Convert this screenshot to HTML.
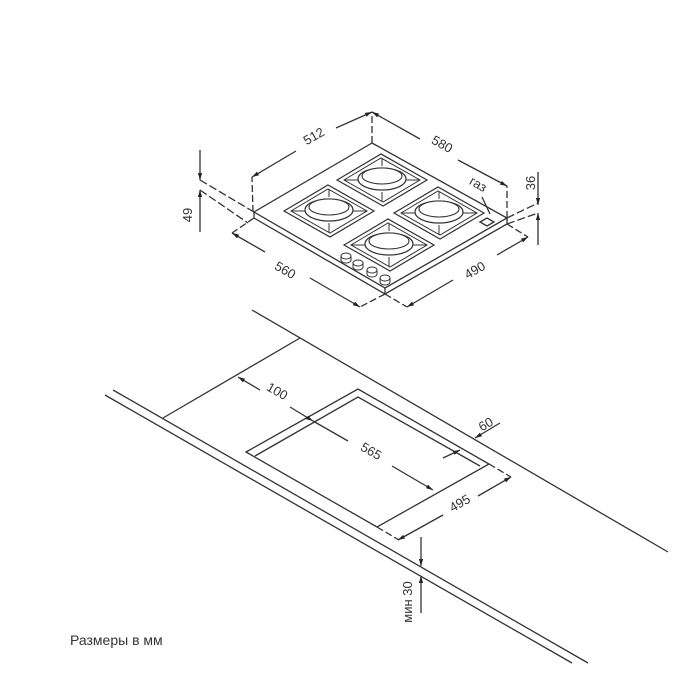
<!DOCTYPE html>
<html><head><meta charset="utf-8"><style>
html,body{margin:0;padding:0;background:#fff;}
svg{display:block;}
text{font-family:"Liberation Sans","DejaVu Sans",sans-serif;fill:#333;font-size:13px;}
</style></head><body>
<svg width="700" height="700" viewBox="0 0 700 700" xmlns="http://www.w3.org/2000/svg">
<defs>
<marker id="a" viewBox="0 0 10 10" refX="10" refY="5" markerWidth="7" markerHeight="7" orient="auto-start-reverse" markerUnits="userSpaceOnUse"><path d="M0,2 L10,5 L0,8 z" fill="#222"/></marker>
<g id="grate">
<path d="M-45,0 L-1,-26 L45,0 L1,26 Z" fill="none" stroke="#333" stroke-width="1.2"/>
<path d="M-38,0 L-1,-22 L38,0 L1,22 Z" fill="none" stroke="#333" stroke-width="1"/>
<line x1="-38" y1="0" x2="-24" y2="0" stroke="#333"/>
<line x1="38" y1="0" x2="24" y2="0" stroke="#333"/>
<line x1="0" y1="-22" x2="0" y2="-14" stroke="#333"/>
<line x1="0" y1="22" x2="0" y2="12" stroke="#333"/>
<ellipse cx="0" cy="-1" rx="24" ry="11" fill="#fff" stroke="#333" stroke-width="1.2"/>
<ellipse cx="0" cy="-4" rx="20" ry="8" fill="#fff" stroke="#333" stroke-width="1.1"/>
</g>
<g id="knob"><path d="M-5,-2 L-5,2 A5,3 0 0 0 5,2 L5,-2" fill="#fff" stroke="#333"/><ellipse cx="0" cy="-2" rx="5" ry="3" fill="#fff" stroke="#333"/></g>
</defs>
<g stroke="#333" stroke-width="1.3" fill="none">
<!-- hob -->
<path d="M372,143 L254,212 L385,288 L507,218 Z" fill="#fff"/>
<path d="M254,212 L254,218 L385,294 L507,224 L507,218"/>
<line x1="385" y1="288" x2="385" y2="294"/>
<!-- dims 512/580 -->
<line x1="372" y1="143" x2="372" y2="112" stroke-dasharray="7,3"/>
<line x1="253" y1="212" x2="252" y2="177" stroke-dasharray="7,3"/>
<line x1="507" y1="218" x2="507" y2="186" stroke-dasharray="7,3"/>
<line x1="296" y1="151" x2="252" y2="177" marker-end="url(#a)"/>
<line x1="336" y1="128" x2="372" y2="112" marker-end="url(#a)"/>
<line x1="420" y1="139" x2="372" y2="112" marker-end="url(#a)"/>
<line x1="458" y1="160" x2="507" y2="186" marker-end="url(#a)"/>
<!-- 49 -->
<line x1="200" y1="150" x2="200" y2="180" marker-end="url(#a)"/>
<line x1="200" y1="232" x2="200" y2="190" marker-end="url(#a)"/>
<line x1="200" y1="180" x2="254" y2="212" stroke-dasharray="8,3"/>
<line x1="200" y1="190" x2="248" y2="223" stroke-dasharray="8,3"/>
<!-- 36 -->
<line x1="538" y1="172" x2="538" y2="205" marker-end="url(#a)"/>
<line x1="538" y1="245" x2="538" y2="213" marker-end="url(#a)"/>
<line x1="507" y1="218" x2="538" y2="203" stroke-dasharray="8,3"/>
<line x1="507" y1="224" x2="538" y2="213" stroke-dasharray="8,3"/>
<!-- 560/490 -->
<line x1="254" y1="218" x2="232" y2="233" stroke-dasharray="7,3"/>
<line x1="385" y1="294" x2="360" y2="307" stroke-dasharray="7,3"/>
<line x1="385" y1="294" x2="407" y2="307" stroke-dasharray="7,3"/>
<line x1="507" y1="224" x2="528" y2="237" stroke-dasharray="7,3"/>
<line x1="265" y1="252" x2="232" y2="233" marker-end="url(#a)"/>
<line x1="310" y1="278" x2="360" y2="307" marker-end="url(#a)"/>
<line x1="453" y1="280" x2="407" y2="307" marker-end="url(#a)"/>
<line x1="497" y1="255" x2="528" y2="237" marker-end="url(#a)"/>
<!-- gas -->
<path d="M480,222 L487,218 L494,222 L487,226 Z"/>
<line x1="482" y1="197" x2="490" y2="214"/>
</g>
<use href="#grate" x="382" y="180"/>
<use href="#grate" x="329" y="211"/>
<use href="#grate" x="439" y="213"/>
<use href="#grate" x="389" y="245"/>
<use href="#knob" x="346" y="258"/>
<use href="#knob" x="358" y="265"/>
<use href="#knob" x="372" y="272"/>
<use href="#knob" x="385" y="280"/>
<text transform="translate(316,140) rotate(-30)" text-anchor="middle">512</text>
<text transform="translate(440,148) rotate(29)" text-anchor="middle">580</text>
<text transform="translate(192,215) rotate(-90)" text-anchor="middle">49</text>
<text transform="translate(535,183) rotate(-90)" text-anchor="middle">36</text>
<text transform="translate(476,188) rotate(30)" text-anchor="middle">газ</text>
<text transform="translate(283,274) rotate(30)" text-anchor="middle">560</text>
<text transform="translate(477,274) rotate(-30)" text-anchor="middle">490</text>
<!-- countertop -->
<g stroke="#333" stroke-width="1.3" fill="none">
<line x1="113" y1="390" x2="588" y2="663"/>
<line x1="105" y1="395" x2="572" y2="663"/>
<line x1="252" y1="310" x2="668" y2="552"/>
<line x1="300" y1="338" x2="163" y2="418"/>
<path d="M246,452 L358,389 L489,464 L377,527 Z"/>
<path d="M255,456 L358,397 L480,466"/>
<line x1="260" y1="390" x2="238" y2="377" marker-end="url(#a)"/>
<line x1="290" y1="407" x2="313" y2="421" marker-end="url(#a)"/>
<line x1="313" y1="421" x2="348" y2="441"/>
<line x1="392" y1="466" x2="433" y2="490" marker-end="url(#a)"/>
<line x1="443" y1="458" x2="460" y2="450" marker-end="url(#a)"/>
<line x1="500" y1="423" x2="475" y2="438" marker-end="url(#a)"/>
<line x1="377" y1="527" x2="399" y2="540" stroke-dasharray="7,3"/>
<line x1="489" y1="464" x2="511" y2="477" stroke-dasharray="7,3"/>
<line x1="443" y1="515" x2="398" y2="540" marker-end="url(#a)"/>
<line x1="478" y1="496" x2="511" y2="477" marker-end="url(#a)"/>
<line x1="421" y1="537" x2="421" y2="566" marker-end="url(#a)"/>
<line x1="421" y1="613" x2="421" y2="576" marker-end="url(#a)"/>
</g>
<text transform="translate(275,395) rotate(30)" text-anchor="middle">100</text>
<text transform="translate(369,455) rotate(30)" text-anchor="middle">565</text>
<text transform="translate(488,428) rotate(-30)" text-anchor="middle">60</text>
<text transform="translate(462,507) rotate(-30)" text-anchor="middle">495</text>
<text transform="translate(412,602) rotate(-90)" text-anchor="middle">мин 30</text>
<text x="70" y="645" style="font-size:14px">Размеры в мм</text>
</svg>
</body></html>
